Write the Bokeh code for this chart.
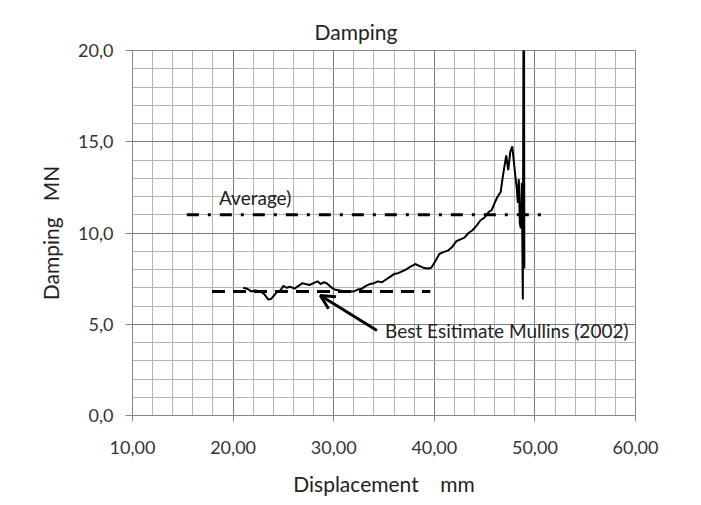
from bokeh.plotting import figure
from bokeh.models import FixedTicker, Range1d, Label, Arrow, OpenHead
from bokeh.embed import file_html
from bokeh.resources import INLINE

# ---- data ----
disp = [21.0, 21.4, 21.8, 22.2, 22.7, 23.1, 23.5, 23.8, 24.1, 24.4, 24.7, 25.0, 25.3, 25.7,
        26.1, 26.5, 26.9, 27.2, 27.6, 28.0, 28.4, 28.7, 29.0, 29.3, 29.7, 30.1, 30.6, 31.1,
        31.6, 32.0, 32.4, 32.8, 33.2, 33.6, 34.0, 34.4, 34.8, 35.2, 35.6, 36.0, 36.4, 36.8,
        37.2, 37.6, 38.1, 38.5, 38.9, 39.3, 39.7, 40.1, 40.5, 40.9, 41.4, 41.8, 42.2, 42.6,
        43.0, 43.4, 43.8, 44.2, 44.6, 45.0, 45.4, 45.7, 46.0, 46.3, 46.6, 46.8, 47.0, 47.15,
        47.35, 47.55, 47.75, 47.9, 48.05, 48.2, 48.3, 48.4, 48.5, 48.6, 48.7, 48.8, 48.9, 48.95]
damping = [7.0, 6.95, 6.8, 6.85, 6.8, 6.65, 6.35, 6.4, 6.6, 6.8, 6.85, 7.1, 7.0, 7.05,
           6.95, 7.1, 7.25, 7.2, 7.15, 7.25, 7.35, 7.2, 7.3, 7.25, 7.05, 6.9, 6.85, 6.8,
           6.8, 6.8, 6.9, 6.95, 7.1, 7.2, 7.25, 7.35, 7.3, 7.45, 7.6, 7.75, 7.8, 7.9,
           8.0, 8.15, 8.3, 8.2, 8.1, 8.05, 8.1, 8.45, 8.85, 8.95, 9.05, 9.25, 9.55, 9.65,
           9.75, 10.0, 10.15, 10.4, 10.7, 10.85, 11.15, 11.25, 11.65, 12.0, 12.25, 13.05, 13.75, 14.25,
           13.45, 14.45, 14.75, 13.95, 13.15, 12.45, 11.65, 12.95, 10.55, 10.25, 12.75, 6.35, 30.0, 8.05]

average_x = [15.4, 50.8]
average_y = [11.0, 11.0]
mullins_x = [17.9, 39.6]
mullins_y = [6.8, 6.8]

x_ticks = [10, 20, 30, 40, 50, 60]
x_tick_labels = ["10,00", "20,00", "30,00", "40,00", "50,00", "60,00"]
y_ticks = [0, 5, 10, 15, 20]
y_tick_labels = ["0,0", "5,0", "10,0", "15,0", "20,0"]

FONT = "Lato"
NB = "\u00a0"

p = figure(width=693, height=504, output_backend="svg", toolbar_location=None,
           x_range=Range1d(10, 60), y_range=Range1d(0, 20),
           min_border_left=132, min_border_right=58, min_border_top=50, min_border_bottom=89,
           title="Damping")
p.title.text_font = FONT
p.title.text_font_size = "21px"
p.title.text_font_style = "normal"
p.title.align = "left"
p.title.offset = 182
p.title.standoff = 14
p.title.text_color = "#222222"

p.outline_line_color = "#868686"
p.background_fill_color = "white"
p.border_fill_color = "white"

xt = FixedTicker(ticks=x_ticks, minor_ticks=list(range(10, 61, 2)))
yt = FixedTicker(ticks=y_ticks, minor_ticks=list(range(0, 21, 1)))
p.xaxis.ticker = xt
p.yaxis.ticker = yt
p.xgrid.ticker = xt
p.ygrid.ticker = yt
for g in (p.xgrid, p.ygrid):
    g.grid_line_color = "#7a7a7a"
    g.grid_line_width = 1
    g.minor_grid_line_color = "#b4b4b4"
    g.minor_grid_line_width = 1

p.xaxis.major_label_overrides = {t: l for t, l in zip(x_ticks, x_tick_labels)}
p.yaxis.major_label_overrides = {t: l for t, l in zip(y_ticks, y_tick_labels)}
for ax in (p.xaxis, p.yaxis):
    ax.axis_line_color = "#868686"
    ax.major_tick_line_color = "#868686"
    ax.major_tick_in = 0
    ax.minor_tick_line_color = None
    ax.major_label_text_font = FONT
    ax.major_label_text_font_size = "18px"
    ax.major_label_text_color = "#333333"
    ax.axis_label_text_font = FONT
    ax.axis_label_text_font_style = "normal"
    ax.axis_label_text_color = "#222222"
    ax.axis_label_text_font_size = "21px"
p.xaxis.major_tick_out = 6
p.yaxis.major_tick_out = 7
p.xaxis.axis_label = "Displacement" + NB * 4 + "mm"
p.yaxis.axis_label = "Damping" + NB * 3 + "MN"
p.xaxis.major_label_standoff = 19
p.xaxis.axis_label_standoff = 14
p.yaxis.major_label_standoff = 12
p.yaxis.axis_label_standoff = 12

p.line(disp, damping, line_color="black", line_width=2)
p.line(average_x, average_y, line_color="black", line_width=3, line_dash="12 9 3 9")
p.line(mullins_x, mullins_y, line_color="black", line_width=3, line_dash="13 8")

p.add_layout(Label(x=18.6, y=11.95, text="Average)", text_font=FONT, text_font_size="19px",
                   text_color="#222222", text_baseline="middle"))
p.add_layout(Label(x=35.1, y=4.66, text="Best Esitimate Mullins (2002)", text_font=FONT,
                   text_font_size="19px", text_color="#222222", text_baseline="middle"))
p.add_layout(Arrow(end=OpenHead(size=14, line_width=3, line_color="black"),
                   x_start=34.3, y_start=4.66, x_end=28.67, y_end=6.58,
                   line_width=3, line_color="black"))

open("out.html", "w").write(file_html(p, INLINE))
